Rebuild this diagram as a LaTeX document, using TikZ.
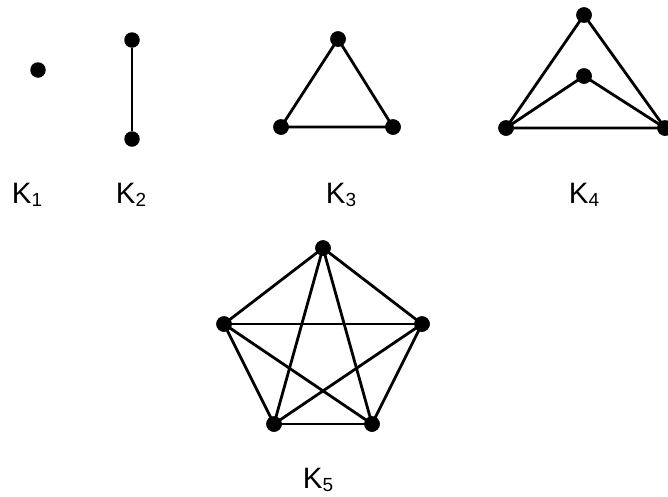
\documentclass[tikz,border=0pt]{standalone}
\usepackage{fontspec}
\setmainfont{Liberation Sans}
\newcommand{\ksub}[1]{K\raisebox{-3.5pt}{\fontsize{19}{19}\selectfont #1}}
\tikzset{
  vtx/.style={circle,fill=black,inner sep=0pt,minimum size=15.5pt},
  edge/.style={line width=2.8pt},
  lbl/.style={anchor=base,inner sep=0pt,font=\fontsize{29.5}{29.5}\selectfont}
}
\begin{document}
\begin{tikzpicture}[x=1pt,y=-1pt]
\useasboundingbox (0,0) rectangle (668,496);
% K1
\node[vtx] (a1) at (38,70) {};
% K2
\node[vtx] (b1) at (132,40) {};
\node[vtx] (b2) at (132,139) {};
\draw[edge] (b1) -- (b2);
% K3
\node[vtx] (c1) at (338,39) {};
\node[vtx] (c2) at (281,127) {};
\node[vtx] (c3) at (393,127) {};
\draw[edge] (c1.center) -- (c2.center) -- (c3.center) -- cycle;
% K4
\node[vtx] (d1) at (584,15) {};
\node[vtx] (d2) at (584,76) {};
\node[vtx] (d3) at (506,128) {};
\node[vtx] (d4) at (665,128) {};
\draw[edge] (d1.center) -- (d3.center) -- (d4.center) -- cycle;
\draw[edge] (d3.center) -- (d2.center) -- (d4.center);
% K5
\node[vtx] (e1) at (323,248) {};
\node[vtx] (e2) at (224,324) {};
\node[vtx] (e3) at (422,324) {};
\node[vtx] (e4) at (274,424) {};
\node[vtx] (e5) at (372,424) {};
\foreach \u/\v in {e1/e2,e1/e3,e1/e4,e1/e5,e2/e3,e2/e4,e2/e5,e3/e4,e3/e5,e4/e5}
  \draw[edge] (\u.center) -- (\v.center);
% redraw vertices on top
\foreach \p in {{338,39},{281,127},{393,127},{584,15},{584,76},{506,128},{665,128},{323,248},{224,324},{422,324},{274,424},{372,424}}
  \fill (\p) circle (7.75pt);
% labels
\node[lbl] (l1) at (27,203) {\ksub{1}};
\node[lbl] (l2) at (131,203) {\ksub{2}};
\node[lbl] (l3) at (341,203) {\ksub{3}};
\node[lbl] (l4) at (584,203) {\ksub{4}};
\node[lbl] (l5) at (318,488) {\ksub{5}};
\end{tikzpicture}
\end{document}
